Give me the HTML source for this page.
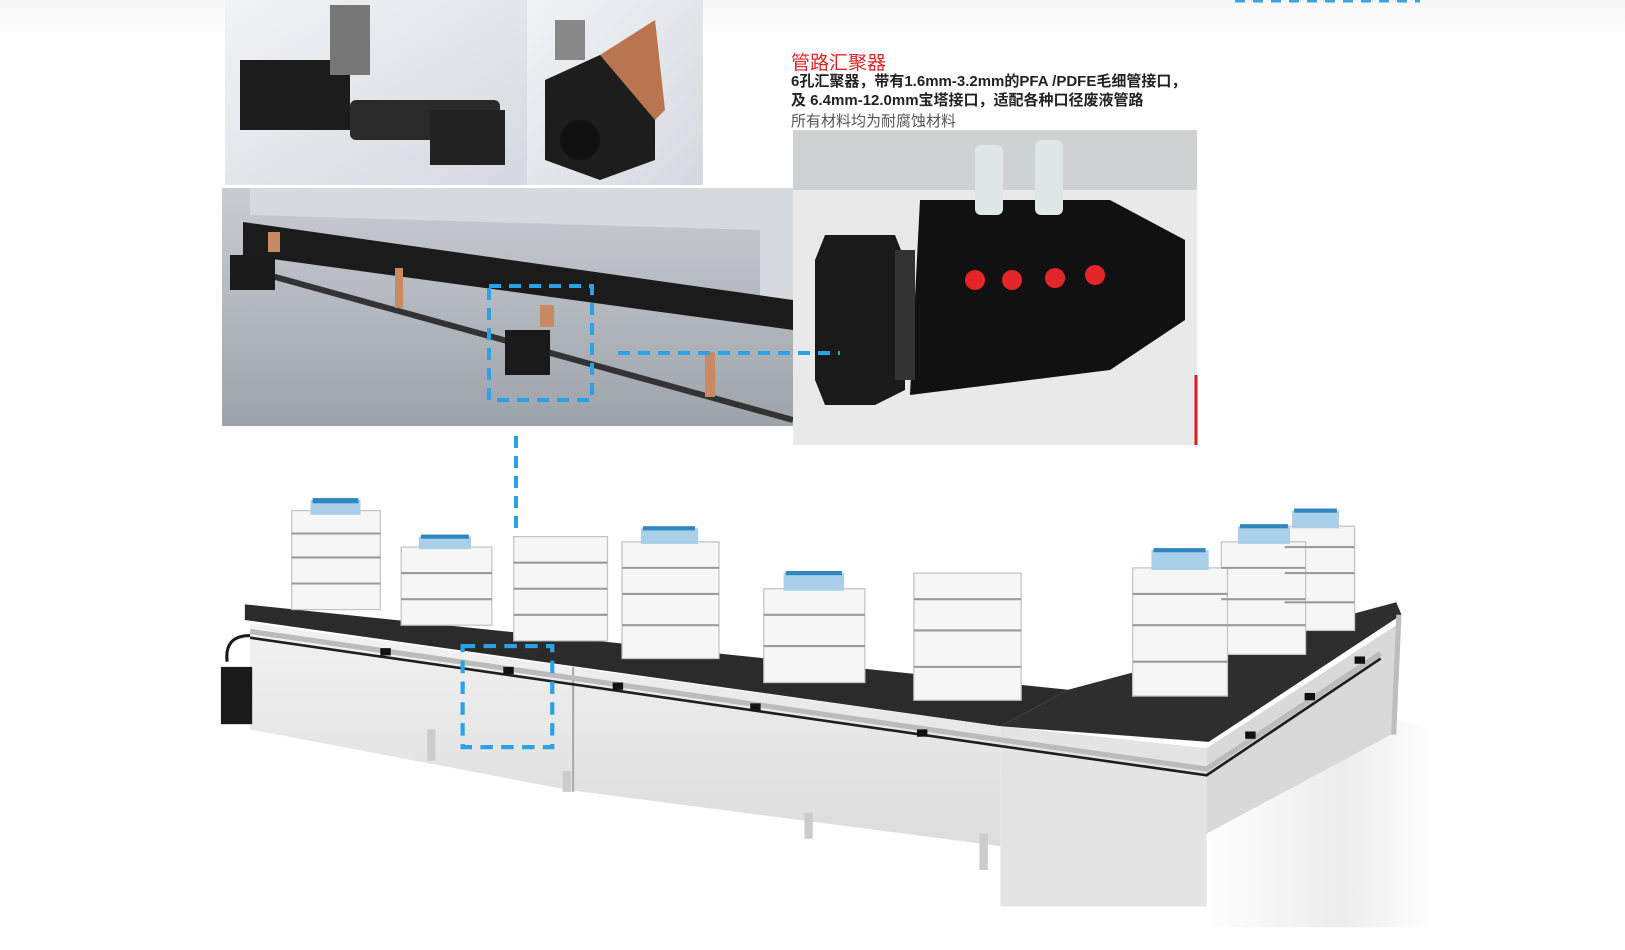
<!DOCTYPE html>
<html><head><meta charset="utf-8"><style>
body{margin:0;width:1625px;height:950px;background:#fff;position:relative;overflow:hidden;font-family:"Liberation Sans","Noto Sans CJK SC",sans-serif}
.a{position:absolute}
</style></head><body>
<div class="a" style="left:0;top:0;width:1625px;height:40px;background:linear-gradient(#f6f6f6,#fff)"></div>
<svg class="a" style="left:0;top:0" width="1625" height="950">
<defs>
<linearGradient id="g1" x1="0" y1="0" x2="1" y2="1"><stop offset="0" stop-color="#f1f3f6"/><stop offset="1" stop-color="#d5d9df"/></linearGradient>
<linearGradient id="g2" x1="0" y1="0" x2="0" y2="1"><stop offset="0" stop-color="#c9cdd2"/><stop offset="1" stop-color="#9da3aa"/></linearGradient>
<linearGradient id="g3" x1="0" y1="0" x2="0" y2="1"><stop offset="0" stop-color="#f2f2f2"/><stop offset="1" stop-color="#dcdcdc"/></linearGradient>
<linearGradient id="fl" x1="0" y1="0" x2="1" y2="0"><stop offset="0" stop-color="#fff"/><stop offset=".6" stop-color="#e8e8e8"/><stop offset="1" stop-color="#fff"/></linearGradient>
</defs>
<line x1="1235" y1="1" x2="1420" y2="1" stroke="#3aa6e0" stroke-width="3" stroke-dasharray="10,8"/>
<rect x="225" y="0" width="302" height="185" fill="url(#g1)"/>
<rect x="240" y="60" width="110" height="70" fill="#1c1c1c"/>
<rect x="350" y="100" width="150" height="40" fill="#2a2a2a" rx="6"/>
<rect x="430" y="110" width="75" height="55" fill="#222"/>
<rect x="330" y="5" width="40" height="70" fill="#777"/>
<rect x="527" y="0" width="176" height="185" fill="url(#g1)"/>
<polygon points="545,80 600,55 655,80 655,160 600,180 545,160" fill="#1d1d1d"/>
<polygon points="600,55 655,20 665,110 655,120" fill="#b97550"/>
<circle cx="580" cy="140" r="20" fill="#111"/>
<rect x="555" y="20" width="30" height="40" fill="#888"/>
<rect x="222" y="188" width="571" height="238" fill="url(#g2)"/>
<polygon points="250,188 793,188 793,300 760,300 760,230 250,215" fill="#d6d9dd"/>
<polygon points="243,222 793,300 793,330 243,255" fill="#1b1b1b"/>
<line x1="250" y1="270" x2="793" y2="420" stroke="#333" stroke-width="6"/>
<rect x="230" y="255" width="45" height="35" fill="#1a1a1a"/>
<rect x="505" y="330" width="45" height="45" fill="#1a1a1a"/>
<rect x="268" y="232" width="12" height="20" fill="#c78a63"/>
<rect x="395" y="268" width="8" height="40" fill="#c78a63"/>
<rect x="540" y="305" width="14" height="22" fill="#c78a63"/>
<rect x="705" y="352" width="10" height="45" fill="#c78a63"/>
<rect x="793" y="130" width="404" height="315" fill="#e9e9e9"/>
<rect x="793" y="130" width="404" height="60" fill="#cfd2d4"/>
<polygon points="920,200 1110,200 1185,240 1185,320 1110,370 910,395" fill="#111"/>
<polygon points="825,235 895,235 905,260 905,390 875,405 825,405 815,380 815,260" fill="#1a1a1a"/>
<rect x="895" y="250" width="20" height="130" fill="#333"/>
<rect x="975" y="145" width="28" height="70" fill="#dfe6e6" rx="6"/>
<rect x="1035" y="140" width="28" height="75" fill="#dfe6e6" rx="6"/>
<circle cx="975" cy="280" r="10" fill="#e4262a"/><circle cx="1012" cy="280" r="10" fill="#e4262a"/>
<circle cx="1055" cy="278" r="10" fill="#e4262a"/><circle cx="1095" cy="275" r="10" fill="#e4262a"/>
<line x1="1196" y1="375" x2="1196" y2="445" stroke="#e01d1d" stroke-width="3"/>
<rect x="489" y="286" width="103" height="114" fill="none" stroke="#29a3e6" stroke-width="4" stroke-dasharray="12,8"/>
<line x1="618" y1="353" x2="840" y2="353" stroke="#29a3e6" stroke-width="4" stroke-dasharray="12,8"/>
<line x1="516" y1="436" x2="516" y2="640" stroke="#29a3e6" stroke-width="4" stroke-dasharray="12,8"/>

<g transform="scale(1.042)">
<polygon points="1150,800 1340,690 1378,700 1378,890 1150,890" fill="url(#fl)" opacity=".8"/>
<!-- countertop -->
<polygon points="235,580 1025,662 960,697 235,595" fill="#2b2b2b"/>
<polygon points="1025,662 1340,578 1345,590 1160,712 960,697" fill="#2e2e2e"/>
<!-- front faces -->
<polygon points="240,598 960,697 960,812 545,758 240,700" fill="url(#g3)"/>
<line x1="550" y1="640" x2="550" y2="760" stroke="#aaa" stroke-width="2"/>
<polygon points="960,697 1158,718 1158,870 960,870" fill="#e4e4e4"/>
<polygon points="1158,718 1340,600 1335,705 1158,800" fill="#d9d9d9"/>
<polygon points="1340,590 1345,590 1340,705 1335,705" fill="#bdbdbd"/>
<rect x="410" y="700" width="8" height="30" fill="#ccc"/><rect x="540" y="740" width="8" height="20" fill="#ccc"/>
<rect x="772" y="780" width="8" height="25" fill="#ccc"/><rect x="940" y="800" width="8" height="35" fill="#ccc"/>
<polyline points="240,606 960,710 1158,738 1325,627" fill="none" stroke="#bbb" stroke-width="5"/>
<polyline points="240,612 960,716 1158,744 1325,632" fill="none" stroke="#1e1e1e" stroke-width="2.5"/>
<g fill="#111"><rect x="365" y="622" width="10" height="7"/><rect x="483" y="640" width="10" height="7"/><rect x="588" y="655" width="10" height="7"/><rect x="720" y="675" width="10" height="7"/><rect x="880" y="700" width="10" height="7"/><rect x="1195" y="702" width="10" height="7"/><rect x="1252" y="665" width="10" height="7"/><rect x="1300" y="630" width="10" height="7"/></g>
<rect x="212" y="640" width="30" height="55" fill="#1a1a1a"/>
<path d="M240,610 q-25,0 -22,25" fill="none" stroke="#1a1a1a" stroke-width="3"/>
<g fill="#f6f6f6" stroke="#c4c4c4" stroke-width="1.2">
<rect x="280" y="490" width="85" height="95"/><rect x="385" y="525" width="87" height="75"/>
<rect x="493" y="515" width="90" height="100"/><rect x="597" y="520" width="93" height="112"/>
<rect x="733" y="565" width="97" height="90"/><rect x="877" y="550" width="103" height="122"/>
<rect x="1233" y="505" width="67" height="100"/><rect x="1172" y="520" width="81" height="108"/>
<rect x="1087" y="545" width="91" height="123"/>
</g>
<g stroke="#9a9a9a" stroke-width="2">
<path d="M280,512h85M280,535h85M280,560h85M385,550h87M385,575h87M493,540h90M493,565h90M493,590h90M597,545h93M597,570h93M597,600h93M733,590h97M733,620h97M877,575h103M877,605h103M877,640h103M1087,570h91M1087,600h91M1087,635h91M1172,545h81M1172,575h81M1172,600h81M1233,525h67M1233,550h67M1233,578h67"/>
</g>
<g fill="#a9d0e8"><rect x="298" y="480" width="48" height="14"/><rect x="402" y="515" width="50" height="12"/><rect x="615" y="507" width="55" height="15"/><rect x="752" y="550" width="58" height="17"/><rect x="1105" y="528" width="55" height="19"/><rect x="1188" y="505" width="50" height="17"/><rect x="1240" y="490" width="45" height="17"/></g>
<g fill="#2f86c0"><rect x="300" y="478" width="44" height="5"/><rect x="404" y="513" width="46" height="4"/><rect x="617" y="505" width="50" height="4"/><rect x="754" y="548" width="54" height="4"/><rect x="1107" y="526" width="50" height="4"/><rect x="1190" y="503" width="46" height="4"/><rect x="1242" y="488" width="41" height="4"/></g>
<rect x="444" y="620" width="86" height="97" fill="none" stroke="#29a3e6" stroke-width="4" stroke-dasharray="12,8"/>
</g>
</svg>
<div class="a" style="left:791px;top:48px;color:#e3242b;font-size:19px">管路汇聚器</div>
<div class="a" style="left:791px;top:72px;color:#222;font-size:15px;line-height:19px;font-weight:bold">6孔汇聚器，带有1.6mm-3.2mm的PFA /PDFE毛细管接口，<br>及 6.4mm-12.0mm宝塔接口，适配各种口径废液管路</div>
<div class="a" style="left:791px;top:110px;color:#555;font-size:15px">所有材料均为耐腐蚀材料</div>
</body></html>
